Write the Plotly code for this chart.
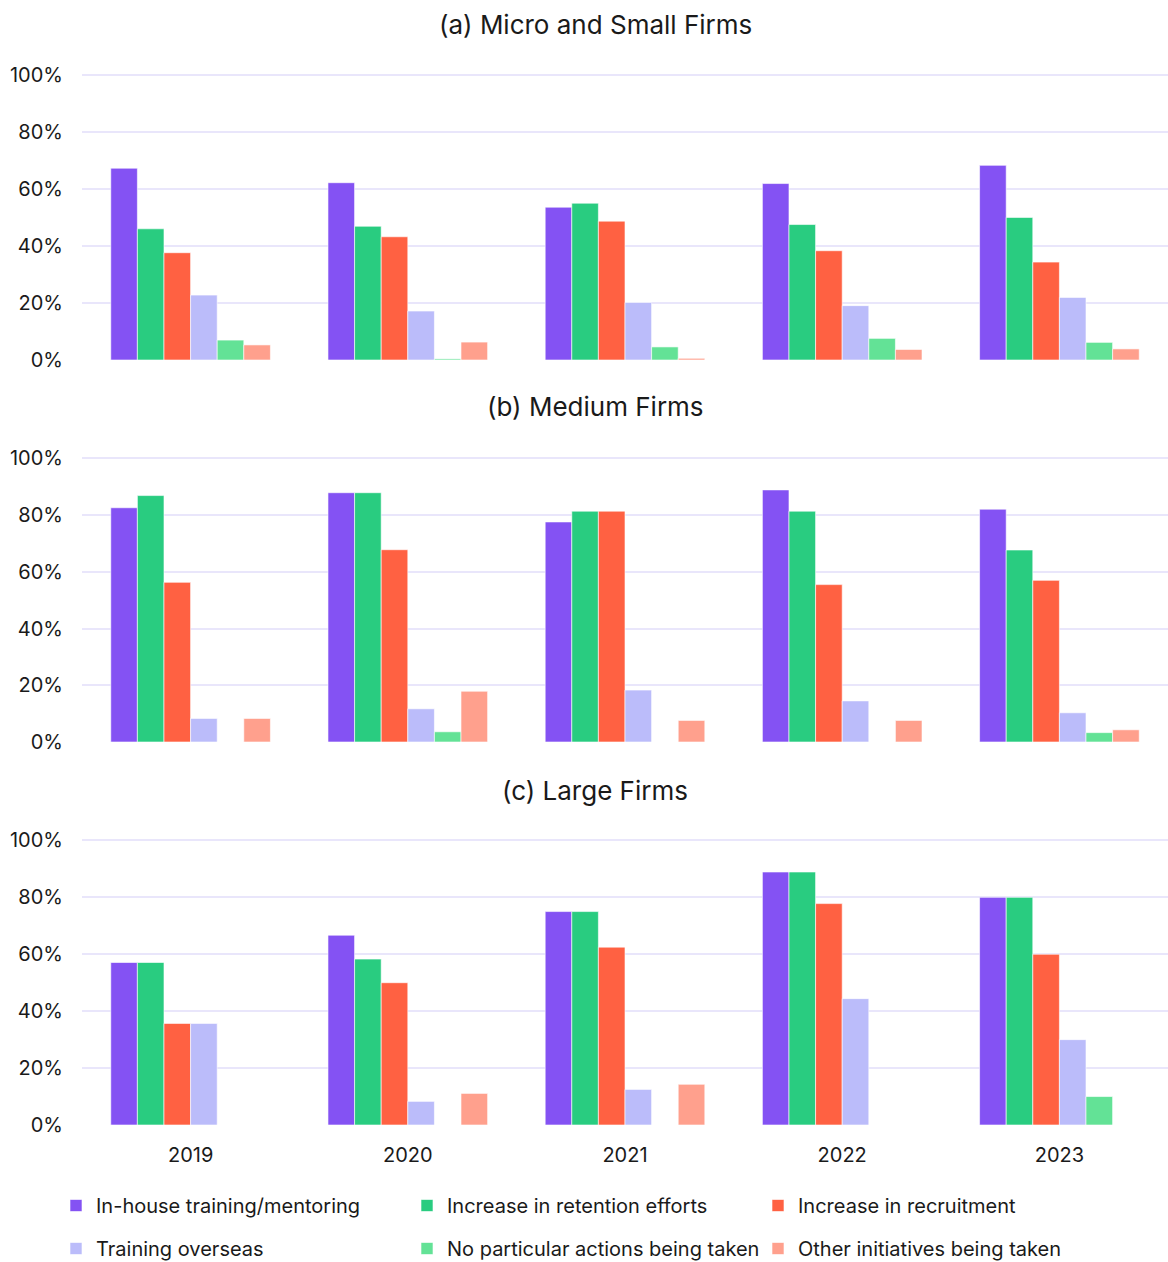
import plotly.graph_objects as go

years = ["2019", "2020", "2021", "2022", "2023"]

series_names = [
    "In-house training/mentoring",
    "Increase in retention efforts",
    "Increase in recruitment",
    "Training overseas",
    "No particular actions being taken",
    "Other initiatives being taken",
]
series_colors = ["#8452F3", "#29CC80", "#FF6142", "#BBBCFA", "#63E296", "#FFA08D"]

# (a) Micro and Small Firms, % of firms per year
micro_inhouse = [67.4, 62.3, 53.7, 62.0, 68.4]
micro_retention = [46.1, 47.0, 55.1, 47.6, 50.1]
micro_recruit = [37.7, 43.3, 48.8, 38.4, 34.4]
micro_overseas = [22.8, 17.2, 20.2, 19.1, 22.0]
micro_none = [7.0, 0.4, 4.6, 7.6, 6.2]
micro_other = [5.3, 6.3, 0.6, 3.7, 3.9]

# (b) Medium Firms
medium_inhouse = [82.6, 87.9, 77.6, 88.9, 82.1]
medium_retention = [86.9, 87.9, 81.4, 81.4, 67.7]
medium_recruit = [56.3, 67.8, 81.4, 55.5, 57.0]
medium_overseas = [8.3, 11.7, 18.3, 14.5, 10.3]
medium_none = [0, 3.6, 0, 0, 3.3]
medium_other = [8.3, 17.9, 7.6, 7.6, 4.3]

# (c) Large Firms
large_inhouse = [57.1, 66.7, 75.0, 88.9, 80.0]
large_retention = [57.1, 58.3, 75.0, 88.9, 80.0]
large_recruit = [35.7, 50.0, 62.5, 77.8, 60.0]
large_overseas = [35.7, 8.3, 12.5, 44.4, 30.0]
large_none = [0, 0, 0, 0, 10.0]
large_other = [0, 11.1, 14.3, 0, 0]

panels = [
    ("(a) Micro and Small Firms",
     [micro_inhouse, micro_retention, micro_recruit, micro_overseas, micro_none, micro_other]),
    ("(b) Medium Firms",
     [medium_inhouse, medium_retention, medium_recruit, medium_overseas, medium_none, medium_other]),
    ("(c) Large Firms",
     [large_inhouse, large_retention, large_recruit, large_overseas, large_none, large_other]),
]

W, H = 1168, 1262
FONT = "Inter"
TEXT = "#1a1a1a"
GRID = "#E9E6FB"
PLOT_LEFT = 82  # px where the plotting area starts

# vertical pixel extents (100% line, 0% line) and title positions of each panel
panel_px = [(74, 360, 25), (457, 742, 407), (839, 1125, 790)]

fig = go.Figure()

for p, (title, values) in enumerate(panels):
    xa = "x" if p == 0 else f"x{p + 1}"
    ya = "y" if p == 0 else f"y{p + 1}"
    for s, (name, color) in enumerate(zip(series_names, series_colors)):
        fig.add_trace(go.Bar(
            x=years,
            y=values[s],
            name=name,
            marker=dict(color=color, line=dict(color="white", width=0.6)),
            xaxis=xa,
            yaxis=ya,
            showlegend=(p == 0),
            legend="legend" if s < 3 else "legend2",
            legendgroup=name,
            hovertemplate="%{x}: %{y:.1f}%<extra>" + name + "</extra>",
        ))

    top, bottom, title_y = panel_px[p]
    ykey = "yaxis" if p == 0 else f"yaxis{p + 1}"
    xkey = "xaxis" if p == 0 else f"xaxis{p + 1}"
    fig.layout[ykey] = dict(
        domain=[1 - bottom / H, 1 - top / H],
        range=[0, 100.5],
        tickvals=[0, 20, 40, 60, 80, 100],
        ticktext=["0%", "20%", "40%", "60%", "80%", "100%"],
        showgrid=True,
        gridcolor=GRID,
        gridwidth=2,
        zeroline=False,
        showline=False,
        ticks="",
        ticklabelstandoff=18,
        automargin=False,
        tickfont=dict(family=FONT, size=20, color=TEXT),
        anchor=xa,
    )
    fig.layout[xkey] = dict(
        domain=[PLOT_LEFT / W, 1],
        showgrid=False,
        zeroline=False,
        showline=False,
        ticks="",
        showticklabels=(p == 2),
        ticklabelstandoff=16,
        automargin=False,
        tickfont=dict(family=FONT, size=20, color=TEXT),
        anchor=ya,
        matches="x" if p > 0 else None,
    )
    fig.add_annotation(
        text=title,
        xref="paper", yref="paper",
        x=595 / W, y=1 - title_y / H,
        xanchor="center", yanchor="middle",
        showarrow=False,
        font=dict(family=FONT, size=26, color=TEXT),
    )

legend_style = dict(
    orientation="h",
    xref="paper", yref="paper",
    x=56 / W,
    xanchor="left", yanchor="top",
    entrywidth=306,
    entrywidthmode="pixels",
    traceorder="normal",
    font=dict(family=FONT, size=20, color=TEXT),
    bgcolor="rgba(0,0,0,0)",
)

fig.update_layout(
    width=W,
    height=H,
    margin=dict(l=0, r=0, t=0, b=0, autoexpand=False),
    paper_bgcolor="white",
    plot_bgcolor="white",
    barmode="group",
    bargap=0.265,
    bargroupgap=0,
    font=dict(family=FONT, size=20, color=TEXT),
    legend=dict(legend_style, y=1 - 1186 / H),
    legend2=dict(legend_style, y=1 - 1229 / H),
)

fig.write_html("out.html")
